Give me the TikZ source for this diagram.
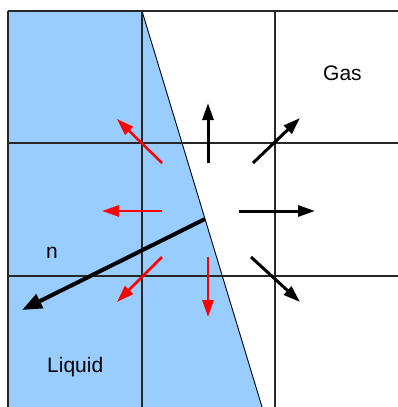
\documentclass[tikz,border=0pt]{standalone}
\usepackage{fontspec}
\setmainfont{Liberation Sans}
\usetikzlibrary{arrows.meta}
\definecolor{liq}{HTML}{99CCFF}
\tikzset{g/.style={draw=black!85,line width=1.2pt},
 bk/.style={line width=3pt,-{Triangle[length=17pt,width=11pt]}},
 nv/.style={line width=4pt,-{Triangle[length=20pt,width=15pt]}},
 rd/.style={red,line width=2.5pt,-{Triangle[length=17pt,width=11pt]}},
 lb/.style={font=\fontsize{21}{25}\selectfont,inner sep=0pt,anchor=base west}}

\begin{document}
\begin{tikzpicture}[x=1pt,y=-1pt]
\useasboundingbox(0,0)rectangle(398,407);
\fill[liq](8,11)--(142,11)--(262,407)--(8,407)--cycle;\draw[line width=0.9pt](142,11)--(262,407);
\foreach \y in {11,143,276}\draw[g](8,\y)--(398,\y);
\foreach \x in {8,142,275}\draw[g](\x,11)--(\x,407);
% gas side
\coordinate(u0)at(208,163);\coordinate(u1)at(208,103);\coordinate(ur0)at(253,163);\coordinate(ur1)at(300,118);
\coordinate(r0)at(239,211);\coordinate(r1)at(315,211);\coordinate(dr0)at(251,257);\coordinate(dr1)at(300,302);
% liquid side
\coordinate(ul0)at(162,163);\coordinate(ul1)at(117,119);\coordinate(l0)at(162,211);\coordinate(l1)at(102,211);
\coordinate(dl0)at(162,257);\coordinate(dl1)at(117,302);\coordinate(d0)at(208,257);\coordinate(d1)at(208,317);
\coordinate(n0)at(205,219);\coordinate(n1)at(22,310);
\draw[bk](u0)--(u1);\draw[bk](ur0)--(ur1);\draw[bk](r0)--(r1);\draw[bk](dr0)--(dr1);
\draw[rd](ul0)--(ul1);\draw[rd](l0)--(l1);\draw[rd](dl0)--(dl1);\draw[rd](d0)--(d1);
\draw[nv](n0)--(n1);
\node[lb](gas)at(323,80){Gas};\node[lb](n)at(46,258){n};\node[lb](liquid)at(47,372){Liquid};
\end{tikzpicture}
\end{document}
